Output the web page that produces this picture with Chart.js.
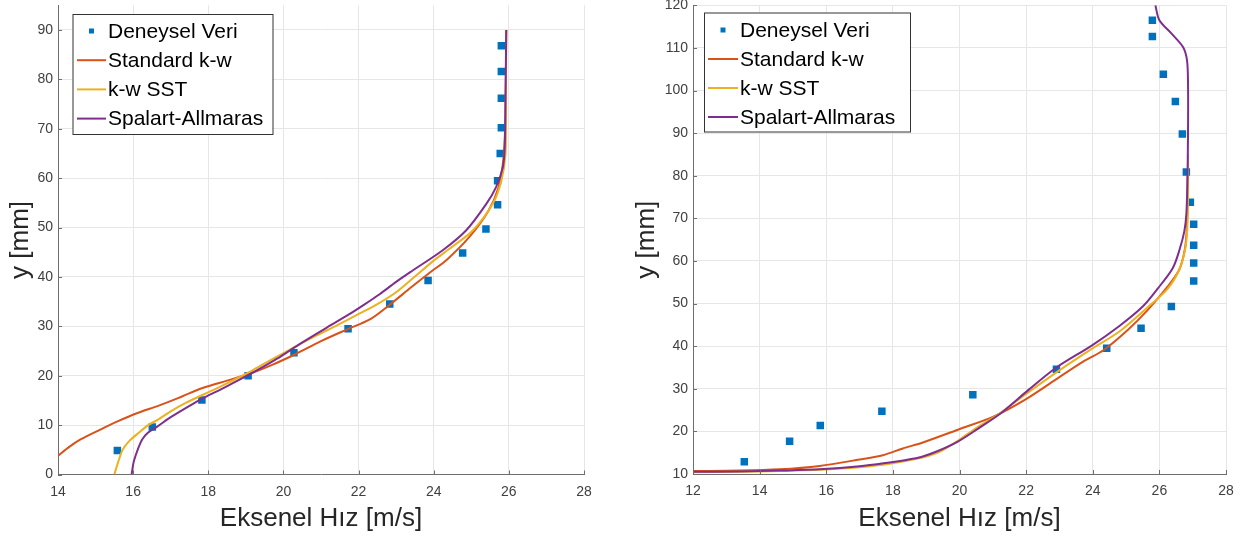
<!DOCTYPE html>
<html>
<head>
<meta charset="utf-8">
<script src="https://cdn.jsdelivr.net/npm/chart.js@4.4.1/dist/chart.umd.min.js"></script>
<style>
    html, body { margin: 0; padding: 0; background: #fff; }
    .wrap { position: relative; width: 1241px; height: 540px; }
    #leftProfileChart { position: absolute; left: 0; top: 0; }
    #rightProfileChart { position: absolute; left: 620px; top: 0; }
</style>
</head>
<body>
<div class="wrap">
    <canvas id="leftProfileChart" width="620" height="540"></canvas>
    <canvas id="rightProfileChart" width="621" height="540"></canvas>
</div>
<script>
        // Series names and axis titles
        const seriesNames = ['Deneysel Veri', 'Standard k-w', 'k-w SST', 'Spalart-Allmaras'];
        const xTitle = 'Eksenel Hız [m/s]';
        const yTitle = 'y [mm]';

        // Left profile
        const leftXTicks = [14, 16, 18, 20, 22, 24, 26, 28];
        const leftYTicks = [0, 10, 20, 30, 40, 50, 60, 70, 80, 90];
        const leftExpX = [15.58, 16.51, 17.83, 19.06, 20.28, 21.72, 22.83, 23.85, 24.77, 25.39, 25.70, 25.70, 25.77, 25.80, 25.80, 25.80, 25.80];
        const leftExpY = [4.85, 9.6, 15.1, 20.0, 24.65, 29.5, 34.5, 39.3, 44.85, 49.7, 54.6, 59.5, 65.0, 70.2, 76.2, 81.6, 86.8];
        const leftStdX = [14.0, 14.3, 14.6, 15.1, 15.6, 16.1, 16.7, 17.3, 17.85, 18.5, 19.1, 19.7, 20.3, 21.0, 21.7, 22.3, 22.8, 23.4, 23.9, 24.35, 24.95, 25.45, 25.72, 25.85, 25.90, 25.92, 25.93];
        const leftStdY = [3.8, 5.6, 7.1, 9.0, 10.8, 12.4, 14.0, 15.8, 17.5, 19.0, 20.4, 22.2, 24.3, 27.0, 29.4, 31.4, 34.2, 37.9, 40.9, 43.5, 48.1, 53.3, 58.0, 63.5, 70, 80, 90];
        const leftSstX = [15.5, 15.6, 15.72, 15.9, 16.14, 16.4, 16.66, 17.0, 17.4, 17.9, 18.35, 19.06, 19.5, 20.03, 20.87, 21.4, 21.93, 22.5, 22.98, 23.5, 24.0, 24.4, 25.04, 25.57, 25.80, 25.91, 25.92, 25.93];
        const leftSstY = [0, 2.5, 5.0, 6.8, 8.4, 10.0, 11.1, 12.8, 14.5, 16.3, 17.9, 20.6, 22.5, 24.7, 28.1, 30.1, 32.2, 34.5, 36.8, 40.1, 43.3, 45.6, 49.4, 54.8, 59.5, 64.9, 75, 90];
        const leftSaX = [15.96, 16.0, 16.03, 16.12, 16.24, 16.4, 16.66, 17.0, 17.5, 17.9, 18.35, 19.06, 19.82, 20.45, 21.1, 21.72, 22.15, 22.56, 23.0, 23.44, 24.24, 24.86, 25.4, 25.66, 25.84, 25.89, 25.91, 25.93];
        const leftSaY = [0, 2.0, 3.0, 5.0, 7.1, 8.5, 9.8, 11.6, 13.9, 15.6, 17.3, 20.1, 23.4, 26.5, 29.5, 32.3, 34.4, 36.5, 39.0, 41.3, 45.4, 49.4, 54.8, 58.2, 62.2, 66.3, 75.7, 90];

        // Right profile
        const rightXTicks = [12, 14, 16, 18, 20, 22, 24, 26, 28];
        const rightYTicks = [10, 20, 30, 40, 50, 60, 70, 80, 90, 100, 110, 120];
        const rightExpX = [13.54, 14.9, 15.82, 17.67, 20.4, 22.91, 24.42, 25.45, 26.36, 27.03, 27.03, 27.03, 27.03, 26.93, 26.81, 26.69, 26.48, 26.12, 25.79, 25.79];
        const rightExpY = [12.9, 17.7, 21.4, 24.7, 28.6, 34.6, 39.5, 44.2, 49.3, 55.3, 59.5, 63.7, 68.6, 73.75, 80.9, 89.8, 97.4, 103.8, 112.7, 116.5];
        const rightStdX = [12.0, 13.4, 14.6, 15.8, 17.0, 17.7, 18.3, 18.9, 19.95, 21.0, 21.96, 23.03, 23.7, 24.33, 25.05, 25.64, 26.24, 26.6, 26.76, 26.82, 26.84, 26.85];
        const rightStdY = [10.7, 10.8, 11.1, 11.9, 13.4, 14.4, 16.0, 17.4, 20.4, 23.4, 27.4, 32.9, 36.3, 39.1, 43.8, 48.4, 53.9, 58.0, 62.5, 67, 72, 80];
        const rightSstX = [12.0, 13.4, 14.6, 15.8, 17.0, 17.9, 18.85, 19.35, 19.95, 20.5, 21.2, 22.0, 22.9, 23.9, 24.81, 25.6, 26.24, 26.6, 26.78, 26.84, 26.86, 26.86];
        const rightSstY = [10.4, 10.5, 10.7, 11.0, 11.6, 12.4, 13.8, 15.0, 17.8, 20.8, 24.2, 28.8, 33.8, 39.0, 43.5, 48.8, 53.4, 58.0, 63, 68, 75, 85];
        const rightSaX = [12.0, 13.4, 14.6, 15.8, 17.0, 17.9, 18.4, 18.85, 19.35, 19.95, 20.55, 21.25, 22.08, 22.91, 23.98, 24.81, 25.5, 25.95, 26.4, 26.6, 26.75, 26.81, 26.84, 26.86, 26.86, 26.83, 26.71, 26.36, 26.0, 25.88];
        const rightSaY = [10.5, 10.6, 10.8, 11.1, 11.8, 12.7, 13.3, 14.0, 15.4, 17.6, 20.6, 24.3, 29.8, 35.0, 40.2, 44.8, 49.3, 53.5, 58.3, 62.5, 67, 71, 78, 90, 101.6, 107.1, 110.2, 113.4, 116.5, 120];

        const colors = ['#0072BD', '#D95319', '#EDB120', '#7E2F8E'];
        const fontFamily = '"Liberation Sans", Arial, Helvetica, sans-serif';

        function toPoints(xs, ys) {
            return xs.map((x, i) => ({ x: x, y: ys[i] }));
        }

        function buildDatasets(expX, expY, series) {
            const sets = [{
                label: seriesNames[0],
                data: toPoints(expX, expY),
                showLine: false,
                pointStyle: 'rect',
                pointRadius: 5.3,
                pointHoverRadius: 5.3,
                backgroundColor: colors[0],
                borderColor: colors[0],
                borderWidth: 0,
                order: 4
            }];
            series.forEach((s, i) => {
                sets.push({
                    label: seriesNames[i + 1],
                    data: toPoints(s[0], s[1]),
                    showLine: true,
                    borderColor: colors[i + 1],
                    backgroundColor: colors[i + 1],
                    borderWidth: 2,
                    pointRadius: 0,
                    tension: 0.3,
                    order: 3 - i
                });
            });
            return sets;
        }

        // MATLAB-like boxed legend inside the axes
        const boxLegend = {
            id: 'boxLegend',
            afterDatasetsDraw(chart, args, opts) {
                const ctx = chart.ctx;
                ctx.save();
                ctx.fillStyle = '#ffffff';
                ctx.fillRect(opts.left, opts.top, opts.width, opts.height);
                ctx.strokeStyle = '#333333';
                ctx.lineWidth = 1;
                ctx.strokeRect(opts.left + 0.5, opts.top + 0.5, opts.width, opts.height);
                ctx.font = '21px ' + fontFamily;
                ctx.textBaseline = 'middle';
                ctx.textAlign = 'left';
                chart.data.datasets.forEach((ds, i) => {
                    const y = opts.firstRow + i * opts.rowHeight;
                    if (ds.showLine) {
                        ctx.strokeStyle = ds.borderColor;
                        ctx.lineWidth = 2;
                        ctx.beginPath();
                        ctx.moveTo(opts.lineStart, y);
                        ctx.lineTo(opts.lineEnd, y);
                        ctx.stroke();
                    } else {
                        ctx.fillStyle = ds.backgroundColor;
                        ctx.fillRect((opts.lineStart + opts.lineEnd) / 2 - 2.5, y - 2.5, 5, 5);
                    }
                    ctx.fillStyle = '#000000';
                    ctx.fillText(ds.label, opts.textX, y + 1);
                });
                ctx.restore();
            }
        };

        // Small inward tick marks on the two axes
        const innerTicks = {
            id: 'innerTicks',
            afterDatasetsDraw(chart) {
                const ctx = chart.ctx;
                const area = chart.chartArea;
                ctx.save();
                ctx.strokeStyle = '#6e6e6e';
                ctx.lineWidth = 1;
                ctx.beginPath();
                chart.scales.x.ticks.forEach(t => {
                    const px = Math.round(chart.scales.x.getPixelForValue(t.value)) + 0.5;
                    ctx.moveTo(px, area.bottom);
                    ctx.lineTo(px, area.bottom - 4);
                });
                chart.scales.y.ticks.forEach(t => {
                    const py = Math.round(chart.scales.y.getPixelForValue(t.value)) + 0.5;
                    ctx.moveTo(area.left, py);
                    ctx.lineTo(area.left + 4, py);
                });
                ctx.stroke();
                ctx.restore();
            }
        };

        function axisX(min, max, tickValues, height) {
            return {
                type: 'linear',
                min: min,
                max: max,
                afterBuildTicks: scale => { scale.ticks = tickValues.map(v => ({ value: v })); },
                afterFit: scale => { scale.height = height; scale.paddingLeft = 0; scale.paddingRight = 0; },
                grid: { color: '#e6e6e6', drawTicks: false },
                border: { display: true, color: '#6e6e6e', width: 1 },
                ticks: { color: '#404040', padding: 9, font: { family: fontFamily, size: 14 } },
                title: { display: true, text: xTitle, color: '#262626', padding: { top: 0, bottom: 6 }, font: { family: fontFamily, size: 26 } }
            };
        }

        function axisY(min, max, tickValues, width, titlePad) {
            return {
                type: 'linear',
                min: min,
                max: max,
                afterBuildTicks: scale => { scale.ticks = tickValues.map(v => ({ value: v })); },
                afterFit: scale => { scale.width = width; scale.paddingTop = 0; scale.paddingBottom = 0; },
                grid: { color: '#e6e6e6', drawTicks: false },
                border: { display: true, color: '#6e6e6e', width: 1 },
                ticks: { color: '#404040', padding: 5, font: { family: fontFamily, size: 14 } },
                title: { display: true, text: yTitle, color: '#262626', padding: { top: titlePad, bottom: 0 }, font: { family: fontFamily, size: 26 } }
            };
        }

        // Left chart
        const leftCtx = document.getElementById('leftProfileChart').getContext('2d');
        new Chart(leftCtx, {
            type: 'scatter',
            data: {
                datasets: buildDatasets(leftExpX, leftExpY, [[leftStdX, leftStdY], [leftSstX, leftSstY], [leftSaX, leftSaY]])
            },
            options: {
                responsive: false,
                animation: false,
                layout: { padding: { left: 0, right: 36, top: 4.5, bottom: 0 } },
                plugins: {
                    legend: { display: false },
                    tooltip: { enabled: false },
                    boxLegend: { left: 72.5, top: 14, width: 200, height: 120, firstRow: 31, rowHeight: 29.2, lineStart: 77, lineEnd: 106, textX: 108 }
                },
                scales: {
                    x: axisX(14, 28, leftXTicks, 65.5),
                    y: axisY(0, 95, leftYTicks, 58, 5)
                }
            },
            plugins: [innerTicks, boxLegend]
        });

        // Right chart
        const rightCtx = document.getElementById('rightProfileChart').getContext('2d');
        new Chart(rightCtx, {
            type: 'scatter',
            data: {
                datasets: buildDatasets(rightExpX, rightExpY, [[rightStdX, rightStdY], [rightSstX, rightSstY], [rightSaX, rightSaY]])
            },
            options: {
                responsive: false,
                animation: false,
                layout: { padding: { left: 0, right: 15, top: 5, bottom: 0 } },
                plugins: {
                    legend: { display: false },
                    tooltip: { enabled: false },
                    boxLegend: { left: 84, top: 12.5, width: 206, height: 119, firstRow: 30, rowHeight: 29, lineStart: 88, lineEnd: 118, textX: 120 }
                },
                scales: {
                    x: axisX(12, 28, rightXTicks, 66),
                    y: axisY(10, 120, rightYTicks, 73, 11)
                }
            },
            plugins: [innerTicks, boxLegend]
        });
</script>
</body>
</html>
